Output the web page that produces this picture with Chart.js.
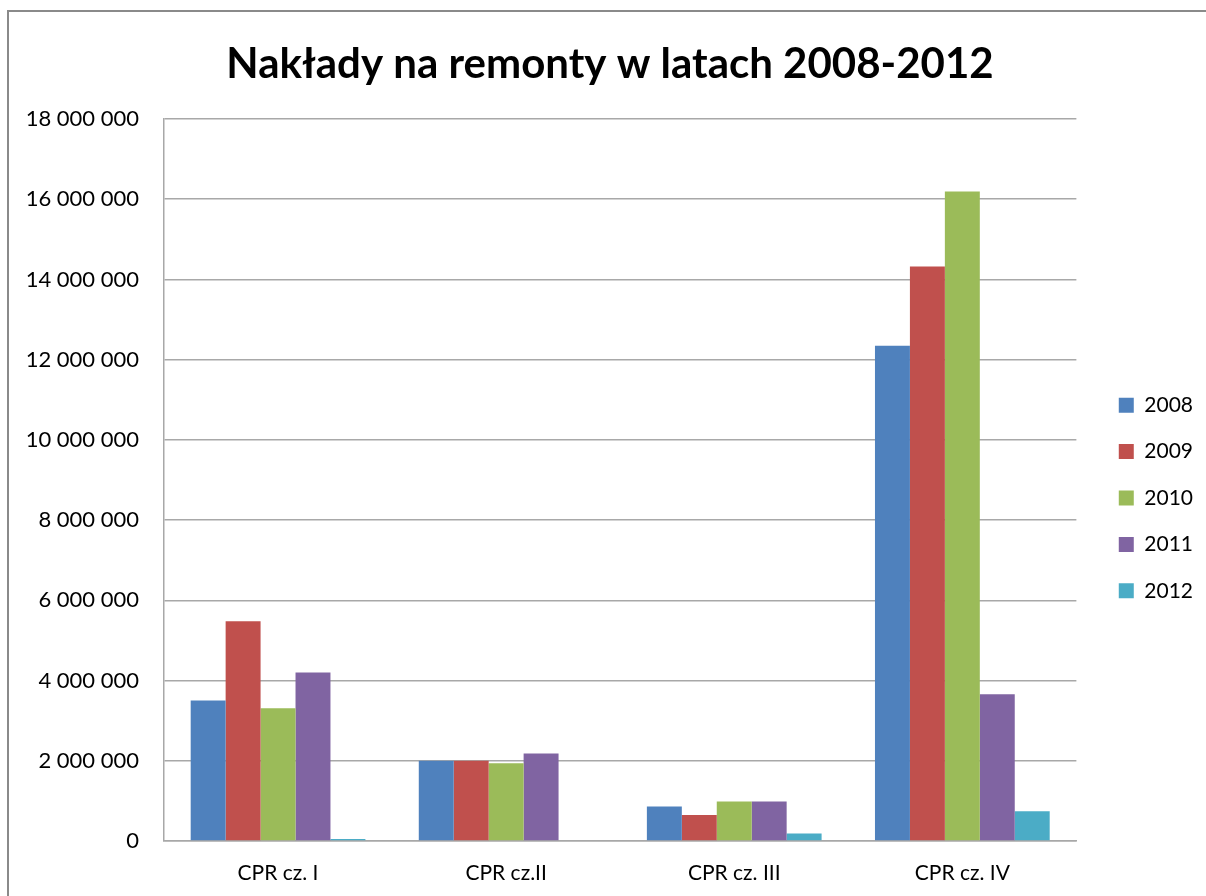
<!DOCTYPE html>
<html>
<head>
<meta charset="utf-8">
<script src="https://cdn.jsdelivr.net/npm/chart.js@4.4.1/dist/chart.umd.min.js"></script>
<style>
  html, body { margin: 0; padding: 0; background: #fff; overflow: hidden; }
  #frame { position: absolute; left: 7px; top: 10px; width: 1300px; height: 1000px;
           border: 2px solid #8a8a8a; box-sizing: border-box; }
  #wrap { position: absolute; left: 0; top: 0; width: 1206px; height: 896px; }
</style>
</head>
<body>
<div id="frame"></div>
<div id="wrap"><canvas id="c" width="1206" height="896"></canvas></div>
<script>
// Categories and yearly series (PLN)
const categories = ['CPR cz. I', 'CPR cz.II', 'CPR cz. III', 'CPR cz. IV'];
const years = ['2008', '2009', '2010', '2011', '2012'];
const values2008 = [3500000, 2000000, 860000, 12350000];
const values2009 = [5480000, 2000000, 650000, 14320000];
const values2010 = [3310000, 1940000, 985000, 16190000];
const values2011 = [4200000, 2180000, 985000, 3660000];
const values2012 = [50000, 0, 190000, 740000];
const yMax = 18000000;
const yStep = 2000000;

const seriesValues = [values2008, values2009, values2010, values2011, values2012];
const seriesColors = ['#4F81BD', '#C0504D', '#9BBB59', '#8064A2', '#4BACC6'];

const fmt = v => String(v).replace(/\B(?=(\d{3})+(?!\d))/g, ' ');
const FONT = 'Lato, "Open Sans", sans-serif';

// nudges the title and legend blocks into place around the plot
const blockOffsets = {
  id: 'blockOffsets',
  afterLayout(chart) {
    const t = chart.titleBlock;
    if (t) { t.left += 17; t.right += 17; }
    const l = chart.legend;
    if (l) {
      const dx = 17, dy = 18;
      l.left += dx; l.right += dx; l.top += dy; l.bottom += dy;
    }
  }
};

new Chart(document.getElementById('c'), {
  type: 'bar',
  data: {
    labels: categories,
    datasets: years.map((y, i) => ({
      label: y,
      data: seriesValues[i],
      backgroundColor: seriesColors[i],
      borderWidth: 0,
      categoryPercentage: 0.766,
      barPercentage: 1.0
    }))
  },
  options: {
    responsive: false,
    animation: false,
    devicePixelRatio: 1,
    layout: { padding: { top: 0, left: 0, right: 20, bottom: 0 } },
    plugins: {
      title: {
        display: true,
        text: 'Nakłady na remonty w latach 2008-2012',
        color: '#000',
        font: { family: FONT, size: 42, weight: 'bold' },
        padding: { top: 38.8, bottom: 29.8 }
      },
      legend: {
        position: 'right',
        align: 'center',
        fullSize: false,
        labels: {
          color: '#000',
          font: { family: FONT, size: 21 },
          boxWidth: 15,
          boxHeight: 15,
          padding: 25.4
        }
      },
      tooltip: { enabled: false }
    },
    scales: {
      x: {
        grid: { display: false, drawTicks: false },
        border: { display: true, color: '#a8a8a8', width: 1.5 },
        ticks: { color: '#000', font: { family: FONT, size: 21 }, padding: 20 },
        afterFit(s) { s.height = 55; }
      },
      y: {
        min: 0,
        max: yMax,
        grid: { color: '#a8a8a8', lineWidth: 1.5, drawTicks: false },
        border: { display: true, color: '#a8a8a8', width: 1.5 },
        ticks: {
          stepSize: yStep,
          color: '#000',
          font: { family: FONT, size: 22 },
          padding: 25,
          callback: v => fmt(v)
        },
        afterFit(s) { s.width = 164; }
      }
    }
  },
  plugins: [blockOffsets]
});
</script>
</body>
</html>
